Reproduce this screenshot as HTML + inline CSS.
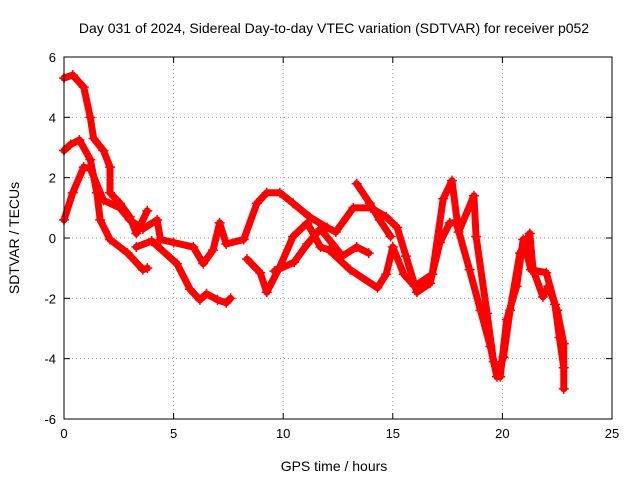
<!DOCTYPE html>
<html><head><meta charset="utf-8"><style>
body{margin:0;background:#fff;}
svg text{font-family:"Liberation Sans",sans-serif;}
</style></head><body>
<svg id="chart" width="640" height="480">
<text x="334" y="33" font-size="14" text-anchor="middle">Day 031 of 2024, Sidereal Day-to-day VTEC variation (SDTVAR) for receiver p052</text>
<text x="334" y="471" font-size="14" text-anchor="middle">GPS time / hours</text>
<text transform="translate(19,238) rotate(-90)" font-size="14" text-anchor="middle">SDTVAR / TECUs</text>
<g id="grid"></g><g id="marks"></g>
<rect x="64" y="57" width="548" height="362" fill="none" stroke="#000"/>
</svg>
<script>
const xTicks=[0,5,10,15,20,25];
const yTicks=[-6,-4,-2,0,2,4,6];
const trackA=[[0,5.3],[0.4,5.4],[0.9,5.0],[1.2,4.0],[1.35,3.3],[1.8,2.9],[2.1,2.35],[2.1,1.5],[2.55,1.15],[3.0,0.7],[3.3,0.15],[3.8,0.9]];
const trackB=[[0,2.9],[0.3,3.1],[0.7,3.25],[1.2,2.6],[1.5,1.5],[1.65,0.6],[2.1,-0.05],[2.9,-0.5],[3.6,-1.05],[3.8,-1.0]];
const trackC=[[0,0.6],[0.4,1.5],[0.9,2.35],[1.2,2.3],[1.8,1.25],[2.55,1.0],[3.0,0.6],[3.6,0.3],[4.25,0.6],[4.4,-0.05],[5.0,-0.15],[5.9,-0.3],[6.35,-0.85],[6.8,-0.4],[7.1,0.5],[7.4,-0.2],[8.2,-0.05],[8.8,1.15],[9.25,1.5],[9.85,1.5],[10.45,1.15],[11.2,0.7],[12.0,0.35],[12.4,0.2],[13.2,1.0],[14.0,1.0],[14.7,0.7],[15.2,0.35],[15.6,-0.6],[16.1,-1.8],[16.7,-1.5],[17.15,-0.15],[17.6,0.5],[17.9,0.5],[18.5,-1.05],[19.0,-2.4],[19.45,-3.6],[19.75,-4.6],[20.05,-3.95],[20.35,-2.4],[20.8,-0.5],[21.25,0.15],[21.4,-1.05],[21.85,-1.95],[22.1,-1.6],[22.5,-2.4],[22.8,-3.5],[22.8,-5.0]];
const trackD=[[3.3,-0.3],[4.0,-0.1],[5.15,-0.85],[5.75,-1.7],[6.2,-2.05],[6.5,-1.85],[7.0,-2.05],[7.4,-2.15],[7.6,-2.0]];
const trackE=[[8.35,-0.7],[8.95,-1.15],[9.25,-1.8],[9.85,-0.95],[10.45,0.05],[11.1,0.5],[11.7,-0.3],[12.1,-0.4],[13.05,-1.05],[14.3,-1.65],[14.7,-1.2],[15.0,-0.3],[15.5,-1.2],[16.0,-1.6],[16.8,-1.2],[17.3,1.3],[17.7,1.9],[18.0,0.2],[18.7,1.4],[18.8,0.05],[19.3,-2.5],[19.6,-4.1],[19.9,-4.6],[20.2,-2.7],[20.65,-1.6],[20.95,-0.05],[21.3,-1.05],[22.0,-1.15],[22.4,-2.2],[22.6,-3.3],[22.8,-4.3]];
const trackF=[[9.6,-1.1],[10.5,-0.8],[11.1,-0.2],[11.7,0.3],[12.7,-0.6],[13.35,-0.3],[13.9,-0.5]];
const trackG=[[13.35,1.8],[13.95,1.15],[14.4,0.6],[14.9,0.05]];
const tracks=[trackA,trackB,trackC,trackD,trackE,trackF,trackG];
const NS="http://www.w3.org/2000/svg";
const X0=64,X1=612,Y0=419,Y1=57;
function xs(v){return X0+(v-0)/(25-0)*(X1-X0);}
function ys(v){return Y0-(v+6)/12*(Y0-Y1);}
const grid=document.getElementById('grid'),marks=document.getElementById('marks');
function mk(tag,attrs,parent){const e=document.createElementNS(NS,tag);for(const k in attrs)e.setAttribute(k,attrs[k]);parent.appendChild(e);return e;}
xTicks.forEach(t=>{
  const g=mk('line',{x1:xs(t),x2:xs(t),y1:Y1,y2:Y0,stroke:'#a0a0a0','stroke-dasharray':'1,3'},grid);
  
  
  mk('line',{x1:xs(t),x2:xs(t),y1:Y0,y2:Y0-6,stroke:'#000'},grid);
  mk('line',{x1:xs(t),x2:xs(t),y1:Y1,y2:Y1+6,stroke:'#000'},grid);
  const l=mk('text',{x:xs(t),y:Y0+19,'font-size':13,'text-anchor':'middle'},grid);l.textContent=t;
  
  
});
yTicks.forEach(t=>{
  const g=mk('line',{x1:X0,x2:X1,y1:ys(t),y2:ys(t),stroke:'#a0a0a0','stroke-dasharray':'1,3'},grid);
  
  
  mk('line',{x1:X0,x2:X0+6,y1:ys(t),y2:ys(t),stroke:'#000'},grid);
  mk('line',{x1:X1,x2:X1-6,y1:ys(t),y2:ys(t),stroke:'#000'},grid);
  const l=mk('text',{x:X0-8,y:ys(t)+5,'font-size':13,'text-anchor':'end'},grid);l.textContent=t;
  
  
});
tracks.forEach(tr=>{
  const pl=mk('polyline',{points:tr.map(p=>xs(p[0])+','+ys(p[1])).join(' '),fill:'none',stroke:'#f00','stroke-width':7,'stroke-linejoin':'round','stroke-linecap':'round'},marks);
  
  
  tr.forEach(p=>{
    const cx=xs(p[0]),cy=ys(p[1]);
    const m=mk('path',{d:`M${cx-5},${cy}H${cx+5}M${cx},${cy-5}V${cy+5}`,stroke:'#f00','stroke-width':1.5},marks);
    
    
  });
});
</script>
</body></html>
